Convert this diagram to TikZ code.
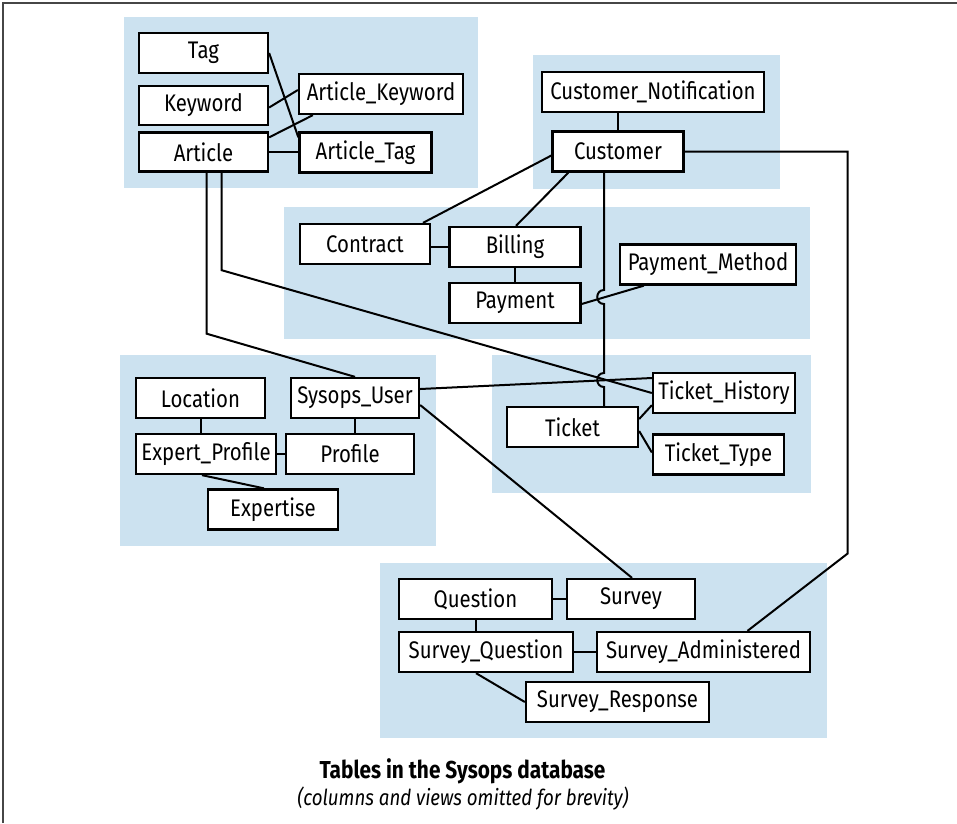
\documentclass[tikz,border=0pt]{standalone}
\usepackage{fontspec}
\setmainfont{Fira Sans}[FakeStretch=0.85]
\usetikzlibrary{calc}
\definecolor{groupblue}{RGB}{204,226,240}
\definecolor{framegray}{RGB}{70,70,70}
\tikzset{
  tablebox/.style={draw=black, fill=white, line width=2.3pt, minimum height=40pt,
    inner sep=0pt, font=\fontsize{24}{27}\selectfont},
  grp/.style={fill=groupblue, draw=none},
  link/.style={draw=black, line width=2pt, line join=miter}
}
\begin{document}
\begin{tikzpicture}[x=1pt, y=-1pt]
\useasboundingbox (0,0) rectangle (957,823);
% outer frame (top and left edges)
\draw[framegray, line width=1.6pt] (3,823) -- (3,3) -- (957,3);

% shaded groups
\fill[grp] (124,17) rectangle (478,188);
\fill[grp] (533,55) rectangle (780,189);
\fill[grp] (284,207) rectangle (810,339);
\fill[grp] (120,355) rectangle (436,546);
\fill[grp] (492,355) rectangle (811,493);
\fill[grp] (380,563) rectangle (827,738);

% tables
\node[tablebox, minimum width=129pt] (tag) at (203.5,53) {Tag};
\node[tablebox, minimum width=129pt, minimum height=39pt] (keyword) at (203.5,105.5) {Keyword};
\node[tablebox, minimum width=129pt, minimum height=39pt] (article) at (203.5,152) {Article};
\node[tablebox, minimum width=164pt] (artkw) at (381,94) {Article\_Keyword};
\node[tablebox, minimum width=132pt] (arttag) at (365.5,152.5) {Article\_Tag};

\node[tablebox, minimum width=222pt] (custnote) at (653,92) {Customer\_Notification};
\node[tablebox, minimum width=131pt] (cust) at (618,151.5) {Customer};

\node[tablebox, minimum width=130pt] (contract) at (365,244) {Contract};
\node[tablebox, minimum width=131pt] (billing) at (515,247) {Billing};
\node[tablebox, minimum width=131pt] (payment) at (515,303) {Payment};
\node[tablebox, minimum width=176pt] (paymeth) at (708,264.5) {Payment\_Method};

\node[tablebox, minimum width=129pt] (location) at (200.5,398) {Location};
\node[tablebox, minimum width=128pt] (sysuser) at (355,398) {Sysops\_User};
\node[tablebox, minimum width=140pt] (expprof) at (206,454) {Expert\_Profile};
\node[tablebox, minimum width=128pt] (profile) at (350,454) {Profile};
\node[tablebox, minimum width=130pt] (expertise) at (273,509.5) {Expertise};

\node[tablebox, minimum width=131pt] (ticket) at (572.5,427) {Ticket};
\node[tablebox, minimum width=142pt] (tickhist) at (724,393) {Ticket\_History};
\node[tablebox, minimum width=131pt] (ticktype) at (718.5,454.5) {Ticket\_Type};

\node[tablebox, minimum width=153pt] (question) at (475.5,599) {Question};
\node[tablebox, minimum width=128pt] (survey) at (631,599) {Survey};
\node[tablebox, minimum width=174pt] (surveyq) at (486,652) {Survey\_Question};
\node[tablebox, minimum width=213pt] (surveyadm) at (703.5,652) {Survey\_Administered};
\node[tablebox, minimum width=183pt] (surveyresp) at (617.5,702) {Survey\_Response};

% relationships: articles
\draw[link] (tag.east) -- ($(arttag.north west)+(0,6)$);
\draw[link] ($(keyword.east)+(0,2)$) -- ($(artkw.west)+(0,-4)$);
\draw[link] ($(article.north east)+(0,6)$) -- ($(artkw.south west)+(15,0)$);
\draw[link] (article.east) -- (arttag.west |- article.east);

% relationships: customers and billing
\draw[link] (cust.north |- custnote.south) -- (cust.north);
\draw[link] (cust.east) -- ++(163,0) -- ++(0,402) -- ($(surveyadm.north)+(44,0)$);
\draw[link] ($(cust.west)+(0,4)$) -- ($(contract.north)+(58,0)$);
\draw[link] ($(cust.south west)+(17,0)$) -- ($(billing.north)+(1,0)$);
\draw[link] (billing.west -| contract.east) -- (billing.west);
\draw[link] (billing.south) -- (payment.north);
\draw[link] ($(payment.east)+(0,1)$) -- ($(paymeth.south west)+(25,0)$);

% customer to ticket, hopping over two crossings
\coordinate (vtop) at ($(cust.south)+(-14,0)$);
\draw[link] (vtop) -- (vtop |- 0,290)
  .. controls ($(vtop |- 0,290)+(-9,0)$) and ($(vtop |- 0,304)+(-9,0)$) .. (vtop |- 0,304)
  -- (vtop |- 0,373)
  .. controls ($(vtop |- 0,373)+(-9,0)$) and ($(vtop |- 0,387)+(-9,0)$) .. (vtop |- 0,387)
  -- (vtop |- ticket.north);

% relationships: sysops users and articles
\draw[link] ($(article.south)+(3,0)$) -- ++(0,161) -- (sysuser.north);
\draw[link] ($(article.south)+(18,0)$) -- ++(0,97.5) -- (tickhist.west);
\draw[link] ($(sysuser.east)+(0,-9)$) -- ($(tickhist.west)+(0,-15)$);
\draw[link] ($(sysuser.east)+(0,7)$) -- ($(survey.north)+(1,0)$);
\draw[link] (location.south) -- (location.south |- expprof.north);
\draw[link] (sysuser.south) -- (sysuser.south |- profile.north);
\draw[link] (expprof.east) -- (profile.west);
\draw[link] ($(expprof.south)+(-4,0)$) -- ($(expertise.north)+(-9,0)$);

% relationships: tickets
\draw[link] ($(ticket.east)+(0,-8)$) -- ($(tickhist.south west)+(0,-9)$);
\draw[link] ($(ticket.east)+(0,4)$) -- ($(ticktype.west)+(0,-2)$);

% relationships: surveys
\draw[link] (question.east) -- (survey.west);
\draw[link] (question.south) -- (question.south |- surveyq.north);
\draw[link] (surveyq.east) -- (surveyadm.west);
\draw[link] ($(surveyq.south)+(-10,0)$) -- (surveyresp.west);

% caption
\node[font=\fontsize{24.5}{28}\selectfont\bfseries, anchor=base] (title) at (462.5,778) {Tables in the Sysops database};
\node[font=\fontsize{22}{25}\selectfont\itshape, anchor=base] (subtitle) at (463,805) {(columns and views omitted for brevity)};
\end{tikzpicture}
\end{document}
